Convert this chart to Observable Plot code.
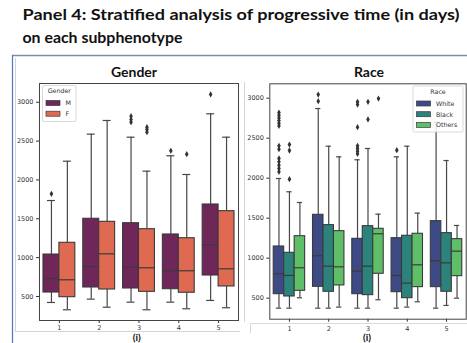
<!DOCTYPE html>
<html>
<head>
<meta charset="utf-8">
<script src="https://cdn.jsdelivr.net/npm/d3@7"></script>
<script src="https://cdn.jsdelivr.net/npm/@observablehq/plot@0.6"></script>
<style>
  html, body { margin: 0; padding: 0; background: #fff; }
  #wrap { position: relative; width: 467px; height: 343px; overflow: hidden; background: #fff; }
  #wrap > svg, #wrap > div { position: absolute; }
</style>
</head>
<body>
<div id="wrap"></div>
<script>
// ---------- data ----------
const categories = [1, 2, 3, 4, 5];

// Gender panel (per category: [M, F])
const genderGroups = ["M", "F"];
const genderColors = ["#6f2659", "#df6a51"];
const genderLow  = [[423, 329], [466, 362], [427, 329], [427, 342], [449, 355]];
const genderQ1   = [[551, 491], [616, 590], [603, 560], [594, 548], [770, 629]];
const genderMed  = [[732, 715], [886, 1049], [877, 869], [831, 831], [1165, 856]];
const genderQ3   = [[1040, 1191], [1500, 1461], [1443, 1366], [1298, 1250], [1684, 1598]];
const genderHigh = [[1735, 2241], [2589, 2765], [2550, 2113], [2311, 2070], [2851, 2550]];
const genderOutlierCat   = [1, 3, 3, 3, 3, 3, 3, 4, 4, 5];
const genderOutlierGroup = ["M", "M", "M", "M", "F", "F", "F", "M", "F", "M"];
const genderOutlierValue = [1822, 2743, 2778, 2820, 2615, 2649, 2679, 2375, 2331, 3100];

// Race panel (per category: [White, Black, Others])
const raceGroups = ["White", "Black", "Others"];
const raceColors = ["#3d4a86", "#2b837b", "#5fbf69"];
const raceLow  = [[375, 375, 505], [375, 375, 388], [375, 375, 480], [375, 388, 455], [375, 409, 500]];
const raceQ1   = [[550, 521, 592], [642, 580, 659], [550, 538, 805], [575, 500, 638], [638, 580, 775]];
const raceMed  = [[805, 784, 880], [1030, 900, 892], [838, 900, 1305], [784, 688, 917], [967, 942, 1088]];
const raceQ3   = [[1146, 1067, 1275], [1542, 1413, 1338], [1242, 1400, 1367], [1250, 1280, 1305], [1463, 1313, 1238]];
const raceHigh = [[1996, 1830, 1696], [2871, 2400, 2267], [2230, 2371, 1550], [2267, 2400, 1563], [2700, 2221, 1409]];
const raceOutlierCat = [1,1,1,1,1,1, 1,1, 1,1,1,1,1, 1,1,1, 2,2, 3,3,3,3,3,3,3, 3,3, 3, 4];
const raceOutlierGroup = [
  "White","White","White","White","White","White",
  "White","White",
  "White","White","White","White","White",
  "Black","Black","Black",
  "White","White",
  "White","White","White","White","White","White","White",
  "Black","Black",
  "Others",
  "White"];
const raceOutlierValue = [
  2821, 2788, 2755, 2721, 2688, 2655,
  2405, 2363,
  2246, 2205, 2163, 2121, 2080,
  2421, 2346, 1988,
  3046, 2963,
  2955, 2921, 2638, 2405, 2371, 2338, 2305,
  2955, 2734,
  2996,
  2350];

const yTicks = [500, 1000, 1500, 2000, 2500, 3000];

// ---------- helpers ----------
function buildRows(groups, low, q1, med, q3, high) {
  const n = groups.length;
  const rows = [];
  categories.forEach((c, i) => {
    groups.forEach((g, j) => {
      const cx = c - 0.4 + (j + 0.5) * 0.8 / n;
      rows.push({
        cat: c, group: g, cx,
        bx1: cx - 0.4 / n, bx2: cx + 0.4 / n,
        cap1: cx - 0.2 / n, cap2: cx + 0.2 / n,
        low: low[i][j], q1: q1[i][j], med: med[i][j], q3: q3[i][j], high: high[i][j]
      });
    });
  });
  return rows;
}
function buildOutliers(groups, cats, grps, vals) {
  const n = groups.length;
  return vals.map((v, k) => ({
    cx: cats[k] - 0.4 + (groups.indexOf(grps[k]) + 0.5) * 0.8 / n,
    v
  }));
}

const lineColor = "#474747";
const edgeColor = "#3a3a3a";

function panel(opts) {
  const rows = buildRows(opts.groups, opts.low, opts.q1, opts.med, opts.q3, opts.high);
  const outs = buildOutliers(opts.groups, opts.oc, opts.og, opts.ov);
  return Plot.plot({
    width: opts.width,
    height: 343,
    marginLeft: opts.ml, marginRight: opts.mr, marginTop: opts.mt, marginBottom: opts.mb,
    style: { background: "transparent", fontFamily: "DejaVu Sans", fontSize: "6.5px", color: "#333", overflow: "visible" },
    x: { domain: [0.5, 5.5], ticks: categories, tickFormat: d => String(d), tickSize: 3, tickPadding: opts.xpad, label: null },
    y: { domain: opts.ydomain, ticks: yTicks, tickFormat: d => String(d), tickSize: 3, tickPadding: 3, label: null, nice: false },
    color: { domain: opts.groups, range: opts.colors },
    marks: [
      Plot.ruleX(rows, { x: "cx", y1: "low", y2: "q1", stroke: lineColor, strokeWidth: 1.2 }),
      Plot.ruleX(rows, { x: "cx", y1: "q3", y2: "high", stroke: lineColor, strokeWidth: 1.2 }),
      Plot.rect(rows, { x1: "bx1", x2: "bx2", y1: "q1", y2: "q3", fill: "group", stroke: edgeColor, strokeWidth: 1.1 }),
      Plot.ruleY(rows, { y: "med", x1: "bx1", x2: "bx2", stroke: edgeColor, strokeWidth: 1.2 }),
      Plot.ruleY(rows, { y: "low", x1: "cap1", x2: "cap2", stroke: lineColor, strokeWidth: 1.2 }),
      Plot.ruleY(rows, { y: "high", x1: "cap1", x2: "cap2", stroke: lineColor, strokeWidth: 1.2 }),
      Plot.dot(outs, { x: "cx", y: "v", symbol: "diamond", r: 1.9, fill: "#333", stroke: "none" }),
      Plot.frame({ stroke: "#444", strokeWidth: 1 })
    ]
  });
}

// ---------- layout ----------
const wrap = document.getElementById("wrap");
const NS = "http://www.w3.org/2000/svg";
function el(parent, tag, attrs, text) {
  const e = document.createElementNS(NS, tag);
  for (const k in attrs) e.setAttribute(k, attrs[k]);
  if (text != null) e.textContent = text;
  parent.appendChild(e);
  return e;
}

// background svg: titles and borders
const bg = el(wrap, "svg", { width: 467, height: 343, style: "left:0;top:0" });
el(bg, "text", { x: 22.5, y: 19.5, "font-family": "Lato", "font-weight": 700, "font-size": 15.5, fill: "#111",
  textLength: 437, lengthAdjust: "spacingAndGlyphs" }, "Panel 4: Stratified analysis of progressive time (in days)");
el(bg, "text", { x: 22.5, y: 42.5, "font-family": "Lato", "font-weight": 700, "font-size": 15.5, fill: "#111",
  textLength: 160, lengthAdjust: "spacingAndGlyphs" }, "on each subphenotype");
el(bg, "line", { x1: 12, x2: 467, y1: 55.5, y2: 55.5, stroke: "#7d8fae", "stroke-width": 1.3 });
el(bg, "line", { x1: 12.5, x2: 12.5, y1: 55, y2: 343, stroke: "#5a7bbd", "stroke-width": 1.3 });
// faint sub-figure borders
el(bg, "line", { x1: 15.5, x2: 15.5, y1: 58, y2: 332, stroke: "#d4d4d4", "stroke-width": 1 });
el(bg, "line", { x1: 15, x2: 240, y1: 331.5, y2: 331.5, stroke: "#d4d4d4", "stroke-width": 1 });
el(bg, "line", { x1: 244.5, x2: 244.5, y1: 82, y2: 322, stroke: "#d4d4d4", "stroke-width": 1 });
el(bg, "line", { x1: 250, x2: 467, y1: 323.5, y2: 323.5, stroke: "#d9d9d9", "stroke-width": 1 });
el(bg, "line", { x1: 250.5, x2: 250.5, y1: 323, y2: 333, stroke: "#d9d9d9", "stroke-width": 1 });
// panel titles
el(bg, "text", { x: 134, y: 76.5, "text-anchor": "middle", "font-family": "Lato", "font-weight": 700, "font-size": 14, fill: "#111" }, "Gender");
el(bg, "text", { x: 369, y: 77, "text-anchor": "middle", "font-family": "Lato", "font-weight": 700, "font-size": 14, fill: "#111" }, "Race");
// sub labels
el(bg, "text", { x: 136.7, y: 341.3, "text-anchor": "middle", "font-family": "Lato", "font-weight": 700, "font-size": 10, fill: "#111" }, "(i)");
el(bg, "text", { x: 367, y: 341.3, "text-anchor": "middle", "font-family": "Lato", "font-weight": 700, "font-size": 10, fill: "#111" }, "(i)");

// plots
const left = panel({
  width: 240, ml: 39, mr: 2, mt: 83, mb: 23, xpad: 2,
  ydomain: [191, 3241],
  groups: genderGroups, colors: genderColors,
  low: genderLow, q1: genderQ1, med: genderMed, q3: genderQ3, high: genderHigh,
  oc: genderOutlierCat, og: genderOutlierGroup, ov: genderOutlierValue
});
left.style.position = "absolute"; left.style.left = "0px"; left.style.top = "0px";
wrap.appendChild(left);

const right = panel({
  width: 227, ml: 29.3, mr: 1.3, mt: 83.3, mb: 24.3, xpad: 4,
  ydomain: [237, 3180],
  groups: raceGroups, colors: raceColors,
  low: raceLow, q1: raceQ1, med: raceMed, q3: raceQ3, high: raceHigh,
  oc: raceOutlierCat, og: raceOutlierGroup, ov: raceOutlierValue
});
right.style.position = "absolute"; right.style.left = "240px"; right.style.top = "0px";
wrap.appendChild(right);

// legends overlay
const fg = el(wrap, "svg", { width: 467, height: 343, style: "left:0;top:0;pointer-events:none" });
function legend(x, y, w, h, title, groups, colors) {
  el(fg, "rect", { x, y, width: w, height: h, rx: 1.5, fill: "#fff", "fill-opacity": 0.85, stroke: "#cfcfcf", "stroke-width": 0.8 });
  el(fg, "text", { x: x + w / 2, y: y + 7.5, "text-anchor": "middle", "font-family": "DejaVu Sans", "font-size": 6.3, fill: "#333" }, title);
  groups.forEach((g, i) => {
    const cy = y + 17.5 + i * 10.7;
    el(fg, "rect", { x: x + 3.5, y: cy - 2.5, width: 14, height: 5, fill: colors[i], stroke: "#3a3a3a", "stroke-width": 0.7 });
    el(fg, "text", { x: x + 23, y: cy + 2.3, "font-family": "DejaVu Sans", "font-size": 6.3, fill: "#333" }, g);
  });
}
legend(42.5, 85.5, 33.5, 36, "Gender", genderGroups, genderColors);
legend(413, 86, 50, 46, "Race", raceGroups, raceColors);
</script>
</body>
</html>
